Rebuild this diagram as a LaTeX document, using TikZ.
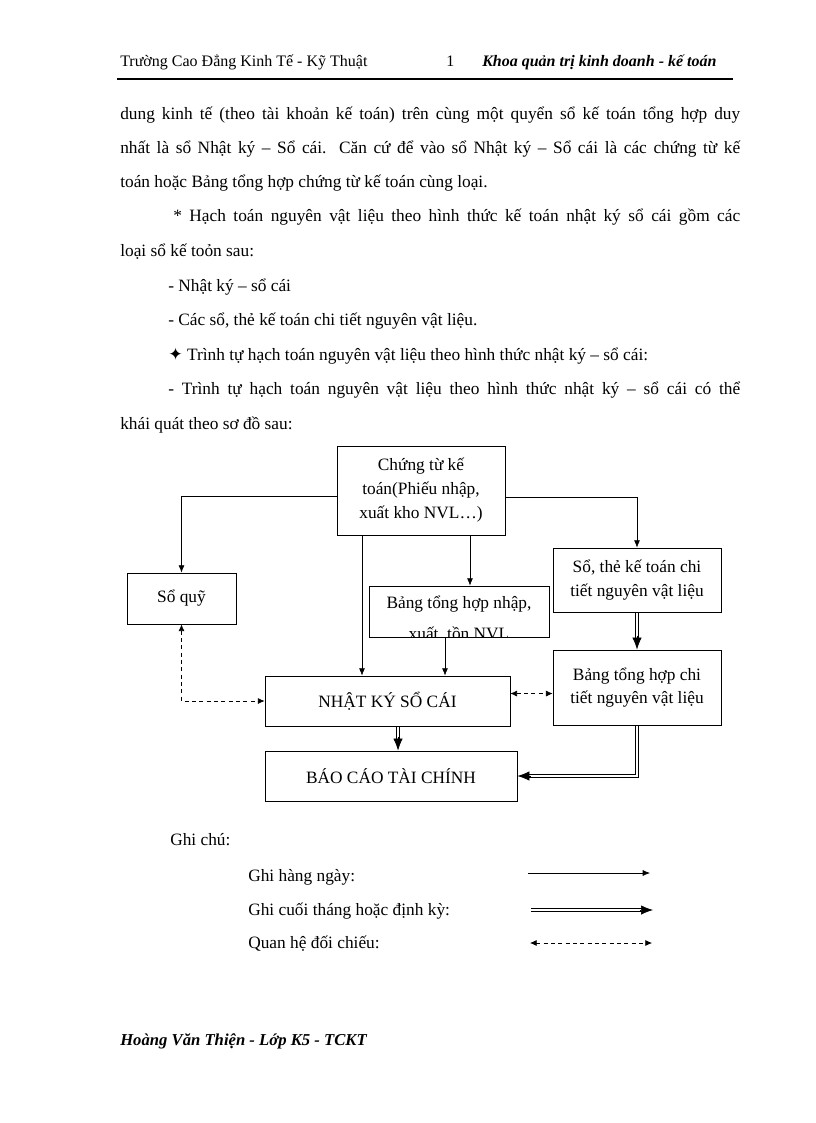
\documentclass[tikz,border=0pt]{standalone}
\usepackage{fontspec}
\setmainfont{Liberation Serif}
\newfontfamily\symfont{DejaVu Sans}
\usetikzlibrary{arrows.meta}
\begin{document}
\begin{tikzpicture}[x=0.75pt,y=-0.75pt,
  txt/.style={inner sep=0pt, font=\fontsize{13}{17.5}\selectfont},
  body/.style={txt, anchor=base west},
  hdr/.style={inner sep=0pt, anchor=base west, font=\fontsize{12}{14}\selectfont},
  box/.style={draw, line width=0.6pt, inner sep=0pt, align=center, font=\fontsize{13}{17.5}\selectfont},
  arr/.style={line width=0.5pt, -{Latex[length=5.5pt,width=4.5pt]}},
  dl/.style={line width=0.5pt, shorten >=6pt},
  tipd/.style={line width=0.5pt, -{Latex[length=9pt,width=7pt]}},
  dsh/.style={line width=0.5pt, dash pattern=on 3pt off 2.5pt, {Latex[length=5pt,width=4.5pt]}-{Latex[length=5pt,width=4.5pt]}},
]
\fill[white] (0,0) rectangle (816,1123);
\useasboundingbox (0,0) rectangle (816,1123);

% header
\node[hdr] (h1) at (120,67) {Trường Cao Đẳng Kinh Tế - Kỹ Thuật};
\node[hdr] (h2) at (446,67) {1};
\node[hdr, font=\fontsize{12}{14}\selectfont\bfseries\itshape] (h3) at (482,67) {Khoa quản trị kinh doanh - kế toán};
\coordinate (rl) at (117,79);
\coordinate (rr) at (733,79);
\draw[line width=1pt] (rl) -- (rr);

% body text
\node[body] (b1) at (120,120) {\makebox[465pt][s]{dung kinh tế (theo tài khoản kế toán) trên cùng một quyển sổ kế toán tổng hợp duy}};
\node[body] (b2) at (120,154) {\makebox[465pt][s]{nhất là sổ Nhật ký – Sổ cái. Căn cứ để vào sổ Nhật ký – Sổ cái là các chứng từ kế}};
\node[body] (b3) at (120,188) {toán hoặc Bảng tổng hợp chứng từ kế toán cùng loại.};
\node[body] (b4) at (173,222) {\makebox[425.25pt][s]{* Hạch toán nguyên vật liệu theo hình thức kế toán nhật ký sổ cái gồm các}};
\node[body] (b5) at (120,257) {loại sổ kế toỏn sau:};
\node[body] (b6) at (168,291) {- Nhật ký – sổ cái};
\node[body] (b7) at (168,325) {- Các sổ, thẻ kế toán chi tiết nguyên vật liệu.};
\node[body] (b8) at (168,360) {{\symfont\fontsize{13}{14}\selectfont ✦} Trình tự hạch toán nguyên vật liệu theo hình thức nhật ký – sổ cái:};
\node[body] (b9) at (168,394) {\makebox[429pt][s]{- Trình tự hạch toán nguyên vật liệu theo hình thức nhật ký – sổ cái có thể}};
\node[body] (b10) at (120,429) {khái quát theo sơ đồ sau:};

% diagram boxes
\node[box, minimum width=126pt, minimum height=66.75pt, font=\fontsize{13}{18}\selectfont] (ct) at (421,490.5) {Chứng từ kế\\toán(Phiếu nhập,\\xuất kho NVL…)};
\node[box, minimum width=81.75pt, minimum height=38.25pt] (sq) at (181.5,598.5) {Sổ quỹ};
\node[box, minimum width=135pt, minimum height=38.25pt] (bn) at (459,611.5) {};
\begin{scope}
\clip (bn.south west) rectangle (bn.north east);
\node[txt, anchor=base] (bn1) at (459,608) {Bảng tổng hợp nhập,};
\node[txt, anchor=base] (bn2) at (459,639) {xuất, tồn NVL};
\end{scope}
\node[box, minimum width=126pt, minimum height=48pt] (st) at (637,580) {Sổ, thẻ kế toán chi\\tiết nguyên vật liệu};
\node[box, minimum width=183.75pt, minimum height=37.5pt] (nk) at (387.5,701) {NHẬT KÝ SỔ CÁI};
\node[box, minimum width=126pt, minimum height=56.25pt] (bct) at (637,687.5) {Bảng tổng hợp chi\\tiết nguyên vật liệu};
\node[box, minimum width=189pt, minimum height=37.5pt] (bc) at (391,776) {BÁO CÁO TÀI CHÍNH};

% connectors: daily
\draw[arr] ([yshift=-4.1pt]ct.west) -| (sq.north);
\draw[arr] ([yshift=-4.9pt]ct.east) -| (st.north);
\draw[arr] ([xshift=36.75pt]ct.south) -- ([xshift=36.75pt]ct.south |- bn.north);
\draw[arr] ([xshift=-44.25pt]ct.south) -- ([xshift=-44.25pt]ct.south |- nk.north);
\draw[arr] ([xshift=-10.5pt]bn.south) -- ([xshift=-10.5pt]bn.south |- nk.north);
% connectors: periodic (double lines)
\draw[dl] ([xshift=-1pt]st.south) -- ([xshift=-1pt]bct.north);
\draw[dl] ([xshift=1pt]st.south) -- ([xshift=1pt]bct.north);
\draw[tipd] ([yshift=10pt]bct.north) -- (bct.north);
\draw[dl] ([xshift=6.9pt]nk.south) -- ([xshift=6.9pt]nk.south |- bc.north);
\draw[dl] ([xshift=8.9pt]nk.south) -- ([xshift=8.9pt]nk.south |- bc.north);
\draw[tipd] ([xshift=7.9pt,yshift=10pt]nk.south |- bc.north) -- ([xshift=7.9pt]nk.south |- bc.north);
\draw[dl] ([xshift=-1pt]bct.south) |- ([yshift=1pt]bc.east);
\draw[dl] ([xshift=1pt]bct.south) |- ([yshift=-1pt]bc.east);
\draw[tipd] ([xshift=10pt]bc.east) -- (bc.east);
% connectors: cross-check
\draw[dsh] (sq.south) |- (nk.west);
\draw[dsh] ([yshift=5.6pt]nk.east) -- ([yshift=5.6pt]nk.east -| bct.west);

% legend
\node[body] (g0) at (170,845) {Ghi chú:};
\node[body] (g1) at (248,881) {Ghi hàng ngày:};
\node[body] (g2) at (248,915) {Ghi cuối tháng hoặc định kỳ:};
\node[body] (g3) at (248,948) {Quan hệ đối chiếu:};
\coordinate (l1a) at (528,873); \coordinate (l1b) at (650,873);
\coordinate (l2a) at (531,910); \coordinate (l2b) at (653,910);
\coordinate (l3a) at (530,943); \coordinate (l3b) at (652,943);
\draw[arr] (l1a) -- (l1b);
\draw[dl] ([yshift=1pt]l2a) -- ([yshift=1pt]l2b);
\draw[dl] ([yshift=-1pt]l2a) -- ([yshift=-1pt]l2b);
\draw[tipd] ([xshift=-10pt]l2b) -- (l2b);
\draw[dsh] (l3a) -- (l3b);

% footer
\node[hdr, font=\fontsize{12.5}{14}\selectfont\bfseries\itshape] (ft) at (120,1045) {Hoàng Văn Thiện - Lớp K5 - TCKT};
\end{tikzpicture}
\end{document}
